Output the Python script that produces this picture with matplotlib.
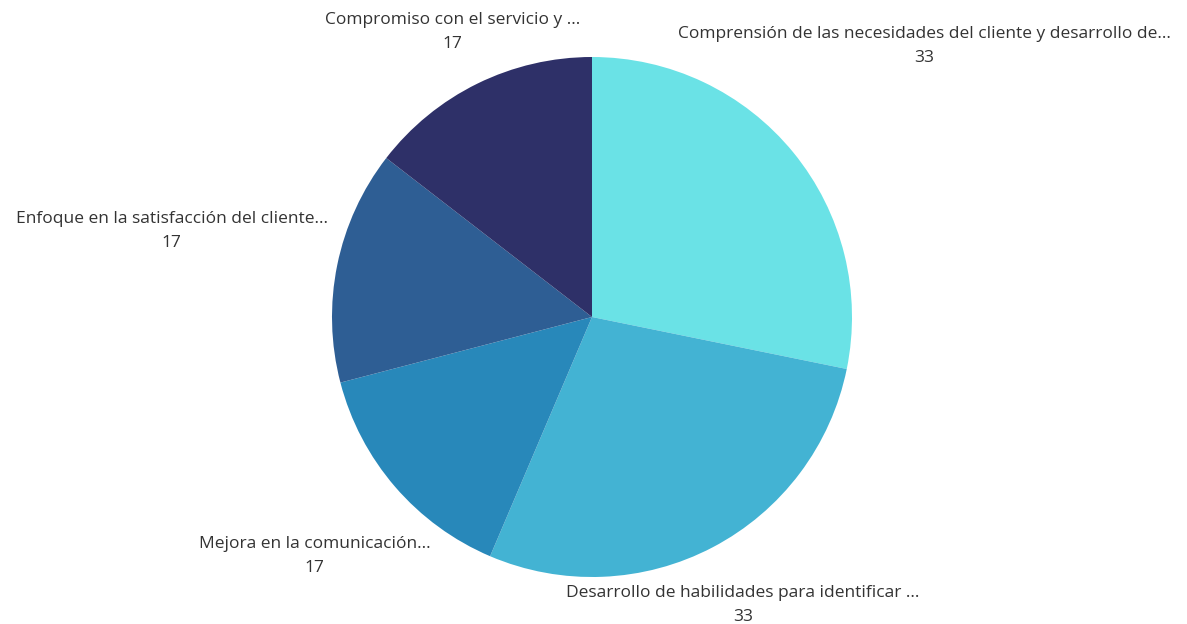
import numpy as np
import matplotlib.pyplot as plt

labels = ["Comprensión de las necesidades del cliente y desarrollo de...",
          "Desarrollo de habilidades para identificar ...",
          "Mejora en la comunicación...",
          "Enfoque en la satisfacción del cliente...",
          "Compromiso con el servicio y ..."]
values = [33, 33, 17, 17, 17]
colors = ["#6ae2e6", "#43b3d3", "#2888ba", "#2e5e94", "#2e3068"]
# how far out (in radii) each label sits along its wedge's middle angle
label_dist = [1.65, 1.25, 1.41, 1.65, 1.22]

plt.rcParams['font.family'] = ['Open Sans', 'DejaVu Sans']

fig = plt.figure(figsize=(11.87, 6.24), dpi=100)
ax = fig.add_axes([0, 0, 1, 1])

R = 260.0  # pie radius in pixels
cx, cy = 592, 317
wedges, _ = ax.pie(values, colors=colors, startangle=90, counterclock=False,
                   radius=1, wedgeprops=dict(linewidth=0))

for w, lab, v, d in zip(wedges, labels, values, label_dist):
    mid = np.deg2rad((w.theta1 + w.theta2) / 2)
    x, y = d * np.cos(mid), d * np.sin(mid)
    ax.text(x, y, lab + "\n" + str(v), ha='center', va='center',
            fontsize=12.5, color='#333333', linespacing=1.65)

ax.set_xlim(-cx / R, (1187 - cx) / R)
ax.set_ylim(-(624 - cy) / R, cy / R)
ax.set_aspect('equal')
ax.axis('off')

fig.savefig('out.png', dpi=100, facecolor='white')
